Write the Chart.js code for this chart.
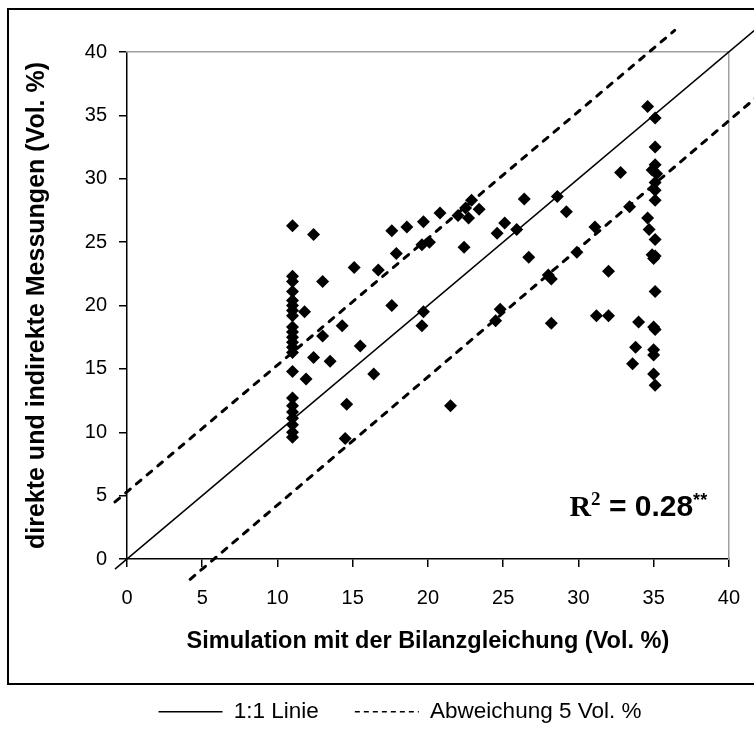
<!DOCTYPE html>
<html lang="de">
<head>
<meta charset="UTF-8">
<title>Simulation vs. Messungen</title>
<script src="https://cdn.jsdelivr.net/npm/chart.js@4.4.0/dist/chart.umd.min.js"></script>
<style>
  html, body { margin: 0; padding: 0; background: #fff; }
  #wrap { width: 754px; height: 733px; }
</style>
</head>
<body>
<div id="wrap"><canvas id="chart" width="754" height="733"></canvas></div>
<script>
// Simulierte Werte (x) und gemessene Werte (y), Vol. %
const simX = [
  11.0, 11.0, 11.0, 11.0, 11.0, 11.0, 11.0, 11.0, 11.0, 11.0, 11.0,
  11.0, 11.0, 11.0, 11.0, 11.0, 11.0, 11.0, 11.0, 11.0, 11.0, 11.0,
  12.4, 11.8, 13.0, 15.1, 16.7, 17.6, 18.6, 19.7, 17.9, 19.6, 20.1, 17.6,
  14.3, 13.0, 15.5, 12.4, 13.5, 11.9, 16.4, 14.6, 19.7, 19.6, 21.5, 14.5,
  32.8, 26.4, 28.6, 29.2, 20.8, 22.9, 23.4, 22.7, 22.0, 22.5, 25.1, 24.6,
  25.9, 22.4, 26.7, 33.4, 31.1, 29.9, 28.0, 28.2, 32.0, 24.8, 24.5, 28.2,
  31.2, 32.0, 34.0, 33.8, 33.6,
  34.6, 35.1, 35.1, 35.1, 34.9, 35.2, 35.1, 35.1, 35.1, 34.6, 34.7,
  35.1, 34.9, 35.1, 35.0, 35.1, 35.0, 35.1, 35.0, 35.0, 35.0, 35.1
];
const measY = [
  26.3, 22.3, 21.9, 21.1, 20.4, 20.0, 19.6, 19.2, 18.3, 17.9, 17.5,
  17.1, 16.7, 16.3, 14.8, 12.7, 12.1, 11.6, 11.1, 10.6, 10.0, 9.6,
  25.6, 19.5, 21.9, 23.0, 22.8, 25.9, 26.2, 26.6, 24.1, 24.8, 25.0, 20.0,
  18.4, 17.6, 16.8, 15.9, 15.6, 14.2, 14.6, 12.2, 19.5, 18.4, 12.1, 9.5,
  30.5, 28.4, 28.6, 27.4, 27.3, 28.3, 27.6, 26.9, 27.1, 27.7, 26.5, 25.7,
  26.0, 24.6, 23.8, 27.8, 26.2, 24.2, 22.4, 22.1, 22.7, 19.7, 18.8, 18.6,
  19.2, 19.2, 18.7, 16.7, 15.4,
  35.7, 34.8, 32.5, 31.1, 30.7, 30.4, 29.7, 29.1, 28.3, 26.9, 26.0,
  25.2, 24.0, 23.9, 23.7, 21.1, 18.3, 18.1, 16.5, 16.1, 14.6, 13.7
];

// Endpunkte der Hilfslinien
const lineX = [-0.8, 42];
const lineY = [-0.8, 42];
const upperX = [-0.8, 36.4];
const upperY = [4.5, 41.7];
const lowerX = [4.2, 42];
const lowerY = [-1.6, 36.6];

const xTicks = [0, 5, 10, 15, 20, 25, 30, 35, 40];
const yTicks = [0, 5, 10, 15, 20, 25, 30, 35, 40];

const toPoints = (xs, ys) => xs.map((x, i) => ({ x: x, y: ys[i] }));

const SANS = '"Liberation Sans", Arial, sans-serif';
const SERIF = '"Liberation Serif", "Times New Roman", serif';

// Rahmen um das Diagramm
const outerFrame = {
  id: 'outerFrame',
  beforeDraw(chart) {
    const ctx = chart.ctx;
    ctx.save();
    ctx.strokeStyle = '#000';
    ctx.lineWidth = 2;
    ctx.strokeRect(8, 9, 770, 675);
    ctx.restore();
  }
};

// Bestimmtheitsmass
const r2Label = {
  id: 'r2Label',
  afterDraw(chart) {
    const ctx = chart.ctx;
    let x = chart.scales.x.getPixelForValue(29.4);
    const y = chart.scales.y.getPixelForValue(3.4);
    ctx.save();
    ctx.fillStyle = '#000';
    ctx.textBaseline = 'alphabetic';
    ctx.textAlign = 'left';
    ctx.font = 'bold 30px ' + SERIF;
    ctx.fillText('R', x, y);
    x += ctx.measureText('R').width;
    ctx.font = 'bold 19px ' + SERIF;
    ctx.fillText('2', x, y - 11);
    x += ctx.measureText('2').width;
    ctx.font = 'bold 30px ' + SANS;
    ctx.fillText(' = 0.28', x, y);
    x += ctx.measureText(' = 0.28').width;
    ctx.font = 'bold 18px ' + SANS;
    ctx.fillText('**', x, y - 10);
    ctx.restore();
  }
};

const ctx = document.getElementById('chart').getContext('2d');
new Chart(ctx, {
  type: 'scatter',
  data: {
    datasets: [
      {
        label: 'Messwerte',
        data: toPoints(simX, measY),
        pointStyle: 'rectRot',
        pointRadius: 6.5,
        pointHoverRadius: 6.5,
        backgroundColor: '#000',
        borderColor: '#000',
        borderWidth: 0
      },
      {
        label: '1:1 Linie',
        data: toPoints(lineX, lineY),
        showLine: true,
        pointRadius: 0,
        borderColor: '#000',
        borderWidth: 1.5,
        clip: false
      },
      {
        label: 'Abweichung 5 Vol. %',
        data: toPoints(upperX, upperY),
        showLine: true,
        pointRadius: 0,
        borderColor: '#000',
        borderWidth: 3,
        borderDash: [6, 8],
        borderCapStyle: 'round',
        clip: false
      },
      {
        label: 'Abweichung unten',
        data: toPoints(lowerX, lowerY),
        showLine: true,
        pointRadius: 0,
        borderColor: '#000',
        borderWidth: 3,
        borderDash: [6, 8],
        borderCapStyle: 'round',
        clip: false
      }
    ]
  },
  options: {
    responsive: false,
    animation: false,
    layout: { padding: { top: 52, left: 46, right: 0, bottom: 0 } },
    scales: {
      x: {
        type: 'linear',
        position: 'bottom',
        min: 0,
        max: 40,
        afterBuildTicks(s) { s.ticks = xTicks.map(v => ({ value: v })); },
        afterFit(s) { s.height = 105.5; },
        grid: { drawOnChartArea: false, drawTicks: true, tickLength: 8, color: '#000', lineWidth: 1.5 },
        border: { color: '#000', width: 1.5 },
        ticks: { color: '#000', padding: 14, font: { family: SANS, size: 20, lineHeight: 1.7 } },
        title: {
          display: true,
          text: 'Simulation mit der Bilanzgleichung (Vol. %)',
          color: '#000',
          font: { family: SANS, size: 23.5, weight: 'bold' },
          padding: { top: 0, bottom: 9 }
        }
      },
      y: {
        type: 'linear',
        position: 'left',
        min: 0,
        max: 40,
        afterBuildTicks(s) { s.ticks = yTicks.map(v => ({ value: v })); },
        afterFit(s) { s.width = 81; },
        grid: { drawOnChartArea: false, drawTicks: true, tickLength: 8, color: '#000', lineWidth: 1.5 },
        border: { color: '#000', width: 1.5 },
        ticks: { color: '#000', padding: 12, font: { family: SANS, size: 20 } },
        title: {
          display: true,
          text: 'direkte und indirekte Messungen (Vol. %)',
          color: '#000',
          font: { family: SANS, size: 25, weight: 'bold' },
          padding: { top: -24, bottom: 0 }
        }
      },
      x2: {
        type: 'linear',
        position: 'top',
        afterFit(s) { s.height = 0; },
        grid: { display: false },
        ticks: { display: false },
        border: { color: '#a0a0a0', width: 1.5 }
      },
      y2: {
        type: 'linear',
        position: 'right',
        afterFit(s) { s.width = 25; },
        grid: { display: false },
        ticks: { display: false },
        border: { color: '#a0a0a0', width: 1.5 }
      }
    },
    plugins: {
      tooltip: { enabled: false },
      legend: {
        position: 'bottom',
        labels: {
          usePointStyle: true,
          pointStyle: 'line',
          pointStyleWidth: 64,
          padding: 36,
          color: '#000',
          font: { family: SANS, size: 22.5 },
          generateLabels(chart) {
            const items = Chart.defaults.plugins.legend.labels.generateLabels(chart);
            return items
              .filter(it => it.datasetIndex === 1 || it.datasetIndex === 2)
              .map(it => {
                it.lineWidth = 1.5;
                it.lineCap = 'butt';
                it.lineDash = it.datasetIndex === 2 ? [5, 4] : [];
                return it;
              });
          }
        }
      }
    }
  },
  plugins: [outerFrame, r2Label]
});
</script>
</body>
</html>
